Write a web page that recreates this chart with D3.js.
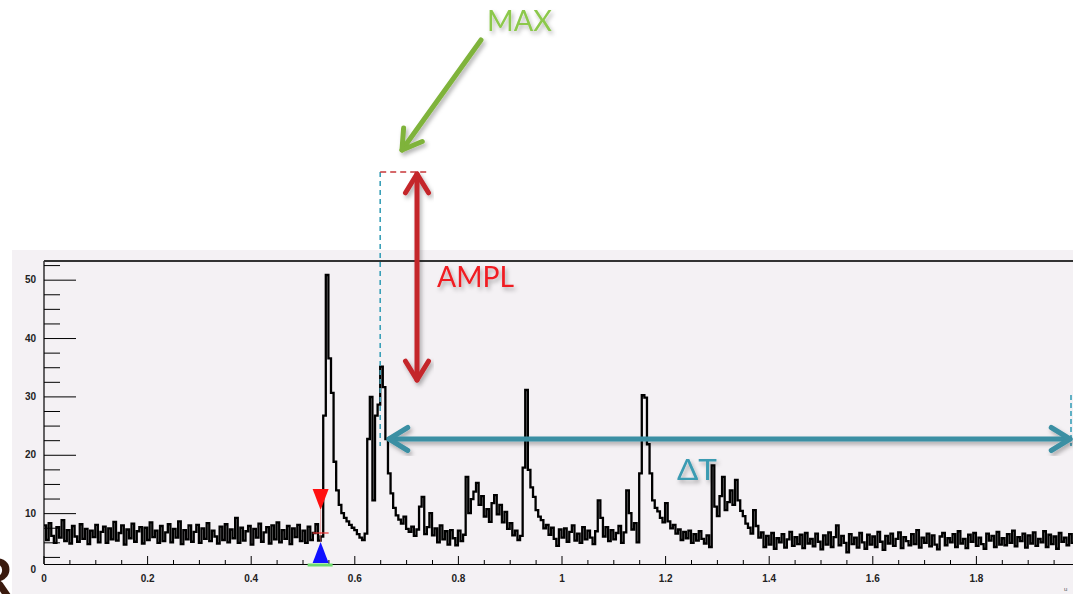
<!DOCTYPE html>
<html>
<head>
<meta charset="utf-8">
<script src="https://cdn.jsdelivr.net/npm/d3@7"></script>
<style>
  body { margin: 0; background: #fff; }
  svg { display: block; }
  .tick text { font-family: "Liberation Sans Narrow", "Liberation Sans", sans-serif; font-weight: bold; font-size: 10px; fill: #222; }
  .note { font-family: Lato, "Open Sans", sans-serif; }
</style>
</head>
<body>
<svg id="chart" width="1073" height="594"></svg>
<script>
// histogram bins, width 0.005, starting at 0
var binWidth = 0.005;

// flat baseline before the trigger (0 .. 0.53)
var preTrigger = [
  7.9,5.4,8.3,6.1,4.9,7.6,5.8,8.8,5.2,7.1,4.8,7.8,6.0,5.1,8.1,5.6,7.3,4.7,7.0,5.9,
  8.0,5.0,6.8,7.7,4.9,7.4,5.5,8.5,5.3,6.6,7.9,4.6,7.2,5.7,8.2,5.1,6.9,7.6,4.8,7.5,
  5.4,8.4,5.9,7.0,4.9,7.8,5.2,6.7,8.1,5.0,7.3,5.8,8.6,4.7,7.1,5.5,7.9,5.1,6.8,8.0,
  4.9,7.4,5.6,8.3,5.2,7.0,6.0,4.8,7.7,5.4,8.1,5.0,7.2,5.7,9.2,4.9,7.5,5.3,6.9,7.8,
  4.6,7.3,5.8,8.2,5.1,6.7,7.6,4.8,7.9,5.5,8.4,5.0,7.1,5.6,7.8,4.7,7.4,5.9,8.0,5.2,
  7.0,4.9,7.7,5.4,6.6,8.1,5.3
];

// pulses (0.535 .. 1.375)
var pulses = [
  6.0,26.7,50.8,36.5,30.6,18.8,13.9,11.4,10,9.2,
  8.6,8.0,7.5,7.1,6.4,5.8,5.4,6.5,22.7,29.9,
  12.2,26.7,28.6,35.1,31.6,22.7,16.8,13.4,10.9,9.6,
  8.9,8.2,9.4,7.3,6.8,7.7,6.1,7.2,11.1,12.8,
  6.4,7.6,10,
  6.2,7.4,5.0,7.9,5.5,6.9,4.6,7.1,5.7,4.5,7.0,5.2,
  6.3,16.2,10,12.4,13.7,15.2,11.4,12.9,9.4,10.7,
  8.5,11.7,13.1,9.8,11.4,8.4,10.2,7.3,8.3,6.2,
  7.0,5.4,6.1,17.8,31.1,17.4,14.4,12.8,10.5,9.4,
  8.8,7.4,8.0,6.3,7.5,5.6,4.4,7.2,5.8,
  7.4,5.1,6.8,7.9,5.3,6.5,4.9,7.6,5.5,7.0,5.8,4.7,6.9,
  12.2,9.2,6.0,7.6,5.2,7.1,5.5,6.6,7.8,4.9,
  6.7,13.9,10,7.2,8.3,5.0,16.8,30.2,29.8,21.8,
  16.8,12.2,10.9,10.3,9.2,8.4,11.7,8.6,7.4,8.0,
  6.5,7.2,5.4,6.8,5.7,7.0,4.9,6.4,5.3,6.9,
  5.6,4.8,6.2,4.2,
  18.2,11.1,9.5,12.9,16.2,10.5,11.9,13.9,11.4,15.7,12.2,10.4,9.5,8.2,7.5,6.5,10.5,7.8
];

// quiet tail (1.38 .. 1.99)
var tail = [
  5.8,6.7,4.2,6.1,4.6,6.6,3.9,5.7,5.0,6.4,4.1,5.5,6.8,4.4,5.9,4.7,6.3,4.0,6.6,4.8,
  5.6,4.3,6.5,5.1,3.8,6.2,4.6,6.7,4.2,5.9,7.9,4.5,6.1,4.9,3.3,6.4,4.7,5.8,4.1,6.6,
  5.0,3.9,6.3,4.6,6.0,4.2,6.8,5.1,3.7,6.1,4.8,6.5,4.4,5.6,6.7,4.0,5.9,5.2,4.5,6.4,
  4.7,7.1,4.1,5.8,4.9,6.5,4.3,6.2,4.6,3.8,6.0,6.6,4.5,5.7,5.0,6.4,4.2,6.9,4.8,5.6,
  4.0,6.3,5.1,6.6,4.4,5.8,4.7,3.9,6.5,5.3,6.1,4.2,6.8,4.6,5.7,4.5,6.4,4.9,7.0,4.3,
  5.9,5.2,6.5,4.1,6.2,4.8,6.7,4.4,5.6,5.0,6.9,4.2,6.3,4.7,6.0,3.9,6.6,5.1,5.8,4.5,6.4,4.9
];

var xTicks = [0, 0.2, 0.4, 0.6, 0.8, 1, 1.2, 1.4, 1.6, 1.8];
var yTicks = [0, 10, 20, 30, 40, 50];

// annotation anchors in data units
var maxPoint = {x: 0.65, y: 35.1};   // second pulse, where the dashed guide drops

var counts = preTrigger.concat(pulses, tail);

var svg = d3.select("#chart");
var W = +svg.attr("width"), H = +svg.attr("height");

var x = d3.scaleLinear().domain([0, 2]).range([43.5, 1079.5]);
var y = d3.scaleLinear().domain([0, 53.2]).range([571.5, 261]);
var axisY = 564, axisX = 44;

var defs = svg.append("defs");
var f = defs.append("filter").attr("id", "shadow")
    .attr("x", "-20%").attr("y", "-20%").attr("width", "140%").attr("height", "140%");
f.append("feDropShadow").attr("dx", 2).attr("dy", 3).attr("stdDeviation", 2)
    .attr("flood-color", "#000").attr("flood-opacity", 0.3);
defs.append("clipPath").attr("id", "frame").append("rect")
    .attr("x", axisX).attr("y", y(53.2)).attr("width", W - axisX).attr("height", axisY - y(53.2));

// pad background
svg.append("rect").attr("x", 12).attr("y", 250).attr("width", W - 12).attr("height", H - 250)
    .attr("fill", "#f4f1f4");

// histogram trace
var pts = counts.map(function(c, i) { return [i * binWidth, c]; });
pts.push([counts.length * binWidth, counts[counts.length - 1]]);
var line = d3.line()
    .x(function(d) { return x(d[0]); })
    .y(function(d) { return y(d[1]); })
    .curve(d3.curveStepAfter);
svg.append("path").datum(pts)
    .attr("clip-path", "url(#frame)")
    .attr("d", line)
    .attr("fill", "none").attr("stroke", "#000").attr("stroke-width", 2.3);

// axes
var xMinor = d3.range(0, 2.001, 0.05).filter(function(v) { return Math.abs(v * 5 - Math.round(v * 5)) > 1e-6; });
svg.append("g").attr("transform", "translate(0," + axisY + ")")
    .call(d3.axisBottom(x).tickValues(xMinor).tickSize(-4).tickSizeOuter(0).tickFormat(""))
    .call(function(g) { g.select(".domain").remove(); });
svg.append("g").attr("class", "xaxis").attr("transform", "translate(0," + axisY + ")")
    .call(d3.axisBottom(x).tickValues(xTicks).tickSize(-8).tickSizeOuter(0).tickPadding(11)
      .tickFormat(d3.format("~g")))
    .call(function(g) { g.select(".domain").attr("stroke-width", 1.2); });

var yMinor = d3.range(2.5, 53, 2.5).filter(function(v) { return v % 10 !== 0; });
svg.append("g").attr("transform", "translate(" + axisX + ",0)")
    .call(d3.axisLeft(y).tickValues(yMinor).tickSize(-16).tickFormat(""))
    .call(function(g) { g.select(".domain").remove(); });
svg.append("g").attr("transform", "translate(" + axisX + ",0)")
    .call(d3.axisLeft(y).tickValues(yTicks).tickSize(-32).tickPadding(8))
    .call(function(g) {
      g.select(".domain").remove();
      g.selectAll(".tick").filter(function(d) { return d === 0; })
        .call(function(t) { t.select("line").remove(); t.select("text").attr("dy", "0.05em"); });
    });
svg.append("line").attr("x1", axisX).attr("x2", axisX).attr("y1", y(53.2)).attr("y2", axisY)
    .attr("stroke", "#000").attr("stroke-width", 1.2);
svg.append("line").attr("x1", axisX).attr("x2", W).attr("y1", y(53.2)).attr("y2", y(53.2))
    .attr("stroke", "#333").attr("stroke-width", 2);

// trigger markers
var trig = x(0.535);
svg.append("path")
    .attr("d", "M" + (trig - 8) + "," + 489 + "L" + (trig + 8) + "," + 489 + "L" + trig + "," + 510 + "Z")
    .attr("fill", "#ff1010");
svg.append("line").attr("x1", trig).attr("x2", trig).attr("y1", 510).attr("y2", 542)
    .attr("stroke", "#d66").attr("stroke-width", 0.6);
svg.append("line").attr("x1", trig - 8).attr("x2", trig + 8).attr("y1", 533).attr("y2", 533)
    .attr("stroke", "#e33").attr("stroke-width", 1.2);
svg.append("path")
    .attr("d", "M" + (trig - 8) + "," + 563 + "L" + (trig + 8) + "," + 563 + "L" + trig + "," + 542 + "Z")
    .attr("fill", "#1010ff");
svg.append("line").attr("x1", trig - 13).attr("x2", trig + 12).attr("y1", 565).attr("y2", 565)
    .attr("stroke", "#6ddc6d").attr("stroke-width", 3);

// guides
var mx = x(maxPoint.x);
var topY = 172;
svg.append("line").attr("x1", mx).attr("x2", mx).attr("y1", topY).attr("y2", 446)
    .attr("stroke", "#3aa0b8").attr("stroke-width", 1.6).attr("stroke-dasharray", "5,4");
svg.append("line").attr("x1", mx).attr("x2", 430).attr("y1", topY).attr("y2", topY)
    .attr("stroke", "#c8373a").attr("stroke-width", 1.6).attr("stroke-dasharray", "6,4");
svg.append("line").attr("x1", 1071).attr("x2", 1071).attr("y1", 395).attr("y2", 446)
    .attr("stroke", "#3aa0b8").attr("stroke-width", 1.6).attr("stroke-dasharray", "5,3");

function arrow(g, x1, y1, x2, y2, color, heads) {
  var a = g.append("g").attr("filter", "url(#shadow)")
      .attr("stroke", color).attr("stroke-width", 5).attr("fill", "none")
      .attr("stroke-linecap", "round").attr("stroke-linejoin", "round");
  a.append("line").attr("x1", x1).attr("y1", y1).attr("x2", x2).attr("y2", y2);
  var ang = Math.atan2(y2 - y1, x2 - x1);
  function head(px, py, dir) {
    var l = 22, w = 0.55;
    var p1 = [px - l * Math.cos(dir - w), py - l * Math.sin(dir - w)];
    var p2 = [px - l * Math.cos(dir + w), py - l * Math.sin(dir + w)];
    a.append("path").attr("d", "M" + p1 + "L" + px + "," + py + "L" + p2);
  }
  head(x2, y2, ang);
  if (heads === 2) head(x1, y1, ang + Math.PI);
}

arrow(svg, 481, 40, 402, 150, "#7fb33a", 1);
arrow(svg, 417, 380, 417, 174, "#c4262c", 2);
arrow(svg, 389, 439, 1070, 439, "#3a8fa3", 2);

svg.append("text").attr("class", "note").attr("x", 487).attr("y", 31)
    .attr("font-size", 28).attr("textLength", 65).attr("lengthAdjust", "spacingAndGlyphs")
    .attr("fill", "#8cc84b").attr("filter", "url(#shadow)").text("MAX");
svg.append("text").attr("class", "note").attr("x", 437).attr("y", 287)
    .attr("font-size", 29).attr("textLength", 77).attr("lengthAdjust", "spacingAndGlyphs")
    .attr("fill", "#f01c22").attr("filter", "url(#shadow)").text("AMPL");
svg.append("text").attr("class", "note").attr("x", 677).attr("y", 480)
    .attr("font-size", 29).attr("textLength", 40).attr("lengthAdjust", "spacingAndGlyphs")
    .attr("fill", "#3a9bb2").attr("filter", "url(#shadow)").text("ΔT");

// slide leftovers
svg.append("text").attr("x", 13).attr("y", 598).attr("text-anchor", "end")
    .attr("font-family", "Lato, sans-serif").attr("font-weight", "bold").attr("font-size", 56)
    .attr("fill", "#3a1a0e").text("R");
svg.append("text").attr("x", 1064).attr("y", 591).attr("font-family", "Liberation Sans, sans-serif")
    .attr("font-size", 6).attr("fill", "#555").text("u");
</script>
</body>
</html>
